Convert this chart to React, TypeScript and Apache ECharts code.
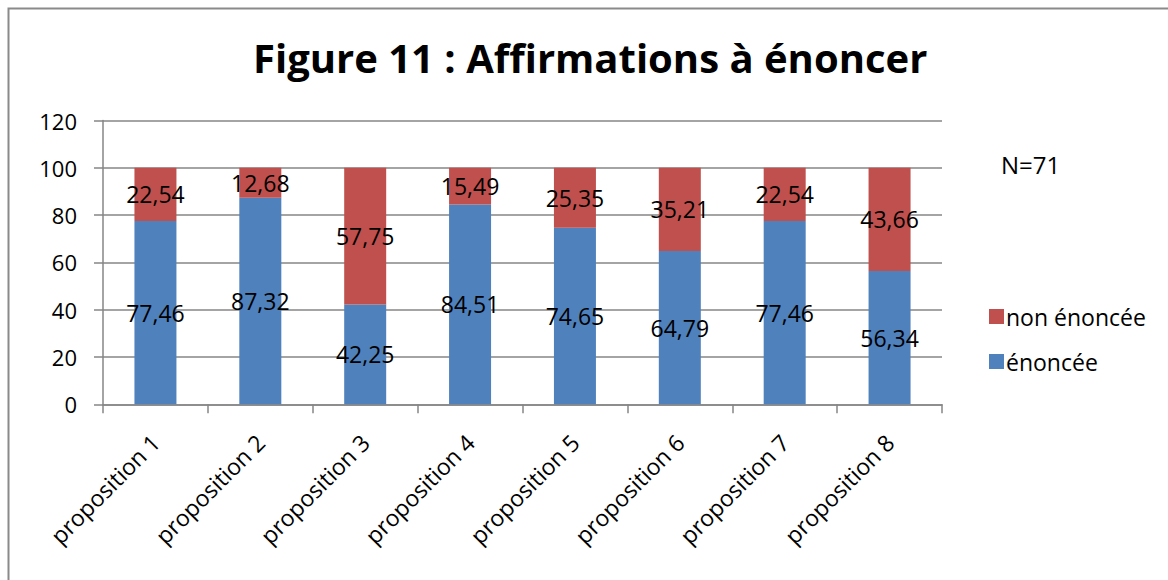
import React, { useEffect, useRef } from "react";
import * as echarts from "echarts";

const categories = [
  "proposition 1",
  "proposition 2",
  "proposition 3",
  "proposition 4",
  "proposition 5",
  "proposition 6",
  "proposition 7",
  "proposition 8",
];
const enoncee = [77.46, 87.32, 42.25, 84.51, 74.65, 64.79, 77.46, 56.34];
const nonEnoncee = [22.54, 12.68, 57.75, 15.49, 25.35, 35.21, 22.54, 43.66];
const yTicks = [0, 20, 40, 60, 80, 100, 120];
const titleText = "Figure 11 : Affirmations à énoncer";
const noteText = "N=71";

const FONT = "'Open Sans', 'Noto Sans', sans-serif";

export default function App() {
  const ref = useRef<HTMLDivElement>(null);
  useEffect(() => {
    if (!ref.current) return;
    const chart = echarts.init(ref.current, undefined, { renderer: "svg" });
    const fmt = (p: any) => String(p.value.toFixed(2)).replace(".", ",");
    chart.setOption({
      animation: false,
      backgroundColor: "#ffffff",
      title: {
        text: titleText,
        left: 248,
        top: 32,
        textStyle: { fontFamily: FONT, fontWeight: "bold", fontSize: 40, color: "#000" },
      },
      graphic: [
        {
          type: "rect",
          shape: { x: 8.5, y: 8.5, width: 1300, height: 700 },
          style: { fill: "none", stroke: "#8a8a8a", lineWidth: 2 },
          silent: true,
        },
        {
          type: "text",
          x: 1001,
          y: 164,
          style: {
            text: noteText,
            fontFamily: FONT,
            fontSize: 24,
            fill: "#000",
            verticalAlign: "middle",
          },
        },
      ],
      legend: {
        orient: "vertical",
        left: 984,
        top: 300,
        itemWidth: 15,
        itemHeight: 15,
        itemGap: 22,
        icon: "rect",
        data: ["non énoncée", "énoncée"],
        textStyle: { fontFamily: FONT, fontSize: 23, color: "#000", padding: [0, 0, 0, -3] },
      },
      grid: { left: 103, right: 226, top: 120.5, bottom: 175.7 },
      xAxis: {
        type: "category",
        data: categories,
        axisLine: { lineStyle: { color: "#868686", width: 1.5 } },
        axisTick: { show: true, length: 9, lineStyle: { color: "#868686", width: 1.5 } },
        axisLabel: {
          rotate: 45,
          margin: 34,
          fontFamily: FONT,
          fontSize: 23,
          color: "#000",
          interval: 0,
        },
      },
      yAxis: {
        type: "value",
        min: yTicks[0],
        max: yTicks[yTicks.length - 1],
        interval: 20,
        axisLine: { show: true, lineStyle: { color: "#868686", width: 1.5 } },
        axisTick: { show: true, length: 9, lineStyle: { color: "#868686", width: 1.5 } },
        splitLine: { lineStyle: { color: "#868686", width: 1.5 } },
        axisLabel: { margin: 26, fontFamily: FONT, fontSize: 22, color: "#000" },
      },
      series: [
        {
          name: "énoncée",
          type: "bar",
          stack: "total",
          data: enoncee,
          barWidth: 42,
          itemStyle: { color: "#4F81BD" },
          label: { show: true, position: "inside", formatter: fmt, fontFamily: FONT, fontSize: 23, color: "#000" },
        },
        {
          name: "non énoncée",
          type: "bar",
          stack: "total",
          data: nonEnoncee,
          barWidth: 42,
          itemStyle: { color: "#C0504D" },
          label: { show: true, position: "inside", formatter: fmt, fontFamily: FONT, fontSize: 23, color: "#000" },
        },
      ],
    });
    return () => chart.dispose();
  }, []);
  return (
    <div
      ref={ref}
      style={{ position: "fixed", left: 0, top: 0, width: 1168, height: 580 }}
    />
  );
}
